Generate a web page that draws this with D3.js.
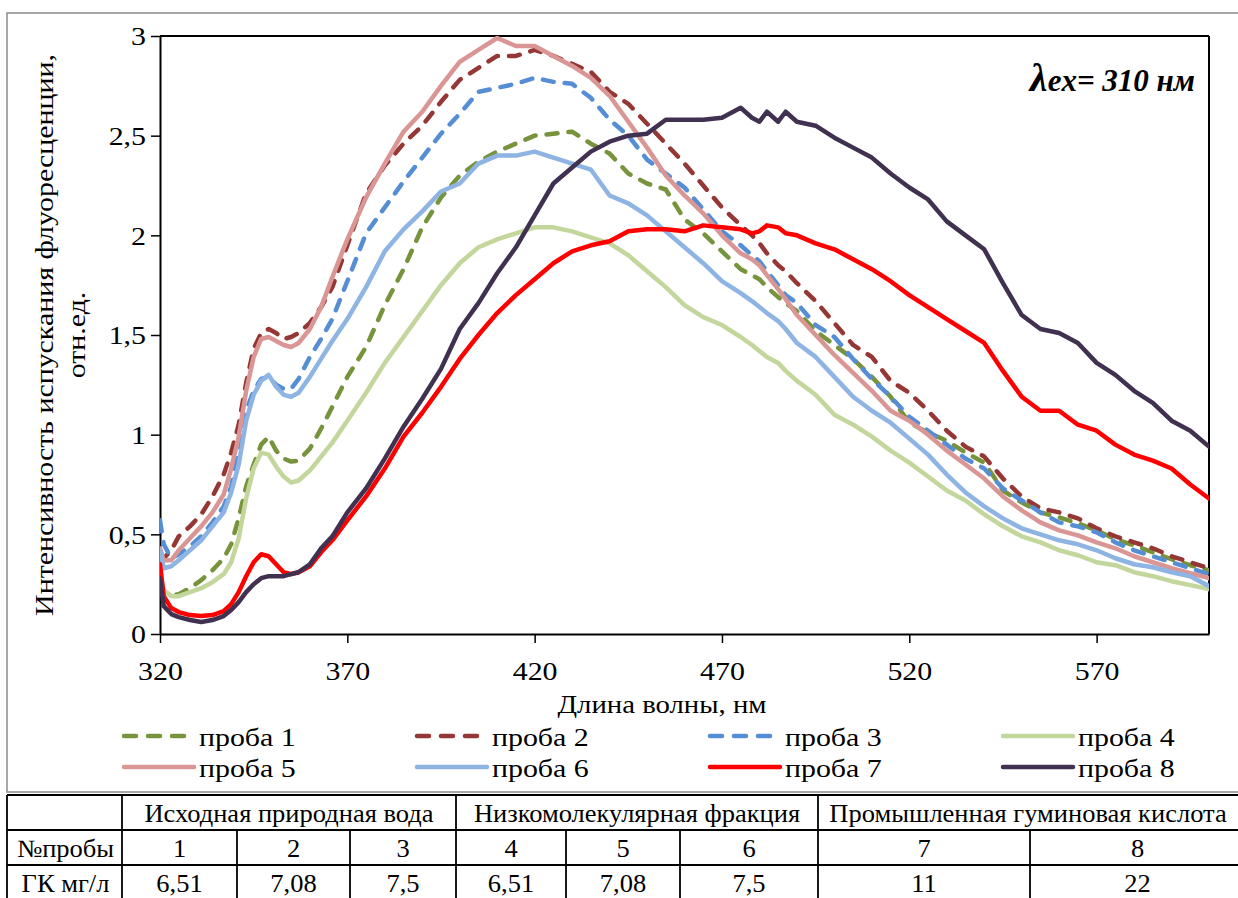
<!DOCTYPE html>
<html><head><meta charset="utf-8">
<script src="https://cdn.jsdelivr.net/npm/d3@7"></script>
<style>
html,body{margin:0;padding:0;background:#fff;}
svg{display:block;}
svg text{font-family:"Liberation Serif","DejaVu Serif",serif !important;fill:#000;}
</style>
</head><body>
<svg id="chart" width="1238" height="898"></svg>
<script>
// ---------- DATA ----------
const wavelengths = [320,321,323,325,328,331,334,337,339,341,343,345,347,349,351,353,355,357,360,363,366,370,
  375,380,385,390,395,400,405,410,415,420,425,430,435,440,445,450,455,460,465,470,475,478,480,482,485,487,490,495,500,
  505,510,515,520,525,530,535,540,545,550,555,560,565,570,575,580,585,590,595,600];

const proba1 = [0.25,0.21,0.195,0.20,0.23,0.27,0.32,0.38,0.45,0.58,0.74,0.85,0.95,0.99,0.92,0.88,0.865,0.87,0.93,1.03,1.14,1.29,
  1.44,1.65,1.83,2.04,2.19,2.30,2.37,2.42,2.46,2.50,2.51,2.52,2.46,2.41,2.31,2.26,2.23,2.08,2.01,1.92,1.83,1.80,1.78,1.74,1.69,1.66,1.62,1.52,1.45,
  1.38,1.29,1.19,1.06,1.01,0.97,0.91,0.86,0.72,0.66,0.61,0.585,0.555,0.52,0.475,0.445,0.41,0.375,0.345,0.32];

const proba2 = [0.40,0.38,0.42,0.49,0.54,0.60,0.69,0.80,0.91,1.05,1.26,1.43,1.51,1.53,1.51,1.48,1.49,1.51,1.56,1.64,1.74,1.95,
  2.21,2.35,2.46,2.55,2.67,2.78,2.84,2.90,2.90,2.93,2.90,2.86,2.82,2.72,2.66,2.56,2.46,2.36,2.25,2.14,2.05,2.00,1.96,1.91,1.85,1.82,1.76,1.67,1.56,
  1.45,1.39,1.27,1.21,1.12,1.02,0.94,0.89,0.78,0.69,0.63,0.61,0.58,0.53,0.49,0.46,0.43,0.39,0.36,0.33];

const proba3 = [0.57,0.45,0.38,0.40,0.44,0.49,0.56,0.64,0.74,0.92,1.12,1.22,1.28,1.29,1.25,1.23,1.23,1.28,1.39,1.48,1.58,1.77,
  2.01,2.14,2.27,2.39,2.51,2.61,2.72,2.74,2.76,2.79,2.77,2.76,2.69,2.58,2.50,2.38,2.31,2.24,2.13,2.02,1.95,1.90,1.87,1.82,1.75,1.70,1.66,1.55,1.49,
  1.38,1.28,1.19,1.09,1.02,0.95,0.88,0.83,0.73,0.67,0.61,0.56,0.54,0.51,0.46,0.42,0.39,0.36,0.33,0.30];

const proba4 = [0.29,0.22,0.19,0.19,0.21,0.23,0.26,0.30,0.36,0.48,0.68,0.83,0.91,0.90,0.84,0.79,0.76,0.77,0.82,0.89,0.96,1.07,
  1.21,1.36,1.49,1.62,1.75,1.86,1.94,1.98,2.01,2.04,2.04,2.02,1.99,1.96,1.90,1.82,1.74,1.65,1.59,1.55,1.49,1.45,1.42,1.39,1.36,1.32,1.27,1.20,1.10,
  1.05,0.99,0.92,0.86,0.79,0.72,0.67,0.60,0.54,0.49,0.46,0.42,0.395,0.36,0.345,0.31,0.29,0.265,0.245,0.225];

const proba5 = [0.43,0.37,0.37,0.42,0.48,0.54,0.61,0.70,0.83,0.99,1.22,1.39,1.48,1.49,1.47,1.45,1.44,1.46,1.53,1.64,1.79,1.98,
  2.19,2.36,2.52,2.62,2.75,2.87,2.93,2.99,2.95,2.95,2.90,2.85,2.79,2.70,2.57,2.44,2.30,2.20,2.11,2.00,1.91,1.88,1.85,1.80,1.73,1.68,1.60,1.50,1.40,
  1.31,1.22,1.12,1.07,1.00,0.92,0.85,0.78,0.69,0.62,0.56,0.52,0.495,0.46,0.43,0.39,0.36,0.33,0.305,0.28];

const proba6 = [0.42,0.33,0.34,0.37,0.42,0.47,0.54,0.61,0.71,0.85,1.07,1.20,1.27,1.30,1.24,1.20,1.19,1.21,1.29,1.38,1.47,1.58,
  1.74,1.92,2.03,2.12,2.22,2.26,2.36,2.40,2.40,2.42,2.39,2.36,2.33,2.20,2.16,2.10,2.02,1.94,1.86,1.77,1.71,1.67,1.64,1.61,1.57,1.53,1.46,1.39,1.29,
  1.19,1.12,1.06,0.98,0.90,0.80,0.71,0.64,0.58,0.53,0.50,0.47,0.45,0.42,0.38,0.35,0.335,0.31,0.29,0.24];

const proba7 = [0.35,0.19,0.13,0.11,0.095,0.09,0.095,0.115,0.15,0.21,0.29,0.36,0.40,0.39,0.35,0.31,0.30,0.31,0.34,0.41,0.47,0.57,
  0.69,0.83,0.99,1.11,1.24,1.38,1.50,1.61,1.70,1.78,1.86,1.92,1.95,1.97,2.02,2.03,2.03,2.02,2.05,2.04,2.03,2.01,2.02,2.05,2.04,2.01,2.00,1.96,1.93,
  1.88,1.83,1.77,1.70,1.64,1.58,1.52,1.46,1.32,1.19,1.12,1.12,1.05,1.02,0.95,0.90,0.87,0.83,0.75,0.68];

const proba8 = [0.28,0.14,0.10,0.085,0.07,0.06,0.07,0.09,0.12,0.16,0.21,0.25,0.28,0.29,0.29,0.29,0.30,0.31,0.35,0.43,0.49,0.61,
  0.73,0.88,1.04,1.18,1.33,1.53,1.66,1.81,1.94,2.10,2.26,2.34,2.42,2.47,2.50,2.51,2.58,2.58,2.58,2.59,2.64,2.59,2.57,2.62,2.57,2.62,2.57,2.55,2.49,
  2.44,2.39,2.31,2.24,2.18,2.07,2.00,1.93,1.76,1.60,1.53,1.51,1.46,1.36,1.30,1.22,1.16,1.07,1.02,0.94];

const seriesNames = ["проба 1","проба 2","проба 3","проба 4","проба 5","проба 6","проба 7","проба 8"];
const seriesValues = [proba1,proba2,proba3,proba4,proba5,proba6,proba7,proba8];

const xTickValues = [320,370,420,470,520,570];
const yTickValues = [0,0.5,1,1.5,2,2.5,3];

const xTitle = "Длина волны, нм";
const yTitleLines = ["Интенсивность испускания флуоресценции,","отн.ед."];

const tableGroups = ["Исходная природная вода","Низкомолекулярная фракция","Промышленная гуминовая кислота"];
const tableGroupSizes = [3,3,2];
const rowLabels = ["№пробы","ГК мг/л"];
const sampleNumbers = ["1","2","3","4","5","6","7","8"];
const gkValues = ["6,51","7,08","7,5","6,51","7,08","7,5","11","22"];

// ---------- STYLES ----------
const seriesStyles = [
  {color:"#77933C", dash:true},
  {color:"#953735", dash:true},
  {color:"#558ED5", dash:true},
  {color:"#C3D69B", dash:false},
  {color:"#D99694", dash:false},
  {color:"#8DB4E2", dash:false},
  {color:"#FF0000", dash:false},
  {color:"#403151", dash:false}
];

const svg = d3.select("#chart");
const SX = 1.15; // horizontal glyph stretch seen in the reference
const FONT = "Liberation Serif";

// outer chart border
svg.append("rect").attr("x",7).attr("y",13).attr("width",1245).attr("height",779)
  .attr("fill","none").attr("stroke","#8c8c8c").attr("stroke-width",1.5);

const x = d3.scaleLinear().domain([320,600]).range([160,1209]);
const y = d3.scaleLinear().domain([0,3]).range([634,36]);

// plot frame (top/right)
svg.append("line").attr("x1",160).attr("x2",1209).attr("y1",36).attr("y2",36).attr("stroke","#000").attr("stroke-width",2);
svg.append("line").attr("x1",1209).attr("x2",1209).attr("y1",36).attr("y2",634).attr("stroke","#000").attr("stroke-width",2);

const fmt = v => String(v).replace(".", ",");

const yAxis = svg.append("g").attr("transform","translate(160,0)")
  .call(d3.axisLeft(y).tickValues(yTickValues).tickSize(9).tickSizeOuter(0).tickFormat(fmt));
yAxis.attr("font-family",FONT);
yAxis.select(".domain").attr("stroke","#000").attr("stroke-width",2);
yAxis.selectAll(".tick line").attr("stroke","#000").attr("stroke-width",1.5);
yAxis.selectAll(".tick text")
  .attr("font-family",FONT).attr("font-size",26).attr("fill","#000")
  .attr("x",-14/SX).attr("dy","0.34em").attr("transform",`scale(${SX},1)`);

const xAxis = svg.append("g").attr("transform","translate(0,634)")
  .call(d3.axisBottom(x).tickValues(xTickValues).tickSize(9).tickSizeOuter(0));
xAxis.attr("font-family",FONT);
xAxis.select(".domain").attr("stroke","#000").attr("stroke-width",2);
xAxis.selectAll(".tick line").attr("stroke","#000").attr("stroke-width",1.5);
xAxis.selectAll(".tick text")
  .attr("font-family",FONT).attr("font-size",26).attr("fill","#000")
  .attr("y",46).attr("dy",0).attr("x",0).attr("transform",`scale(${SX},1)`);

// axis titles
svg.append("text").attr("transform",`translate(662,713) scale(${SX},1)`)
  .attr("font-family",FONT).attr("text-anchor","middle").attr("font-size",25).text(xTitle);
svg.append("text").attr("transform",`translate(53,335) rotate(-90) scale(${SX},1)`)
  .attr("font-family",FONT).attr("text-anchor","middle").attr("font-size",26).text(yTitleLines[0]);
svg.append("text").attr("transform",`translate(85,335) rotate(-90) scale(${SX},1)`)
  .attr("font-family",FONT).attr("text-anchor","middle").attr("font-size",26).text(yTitleLines[1]);

// clip
svg.append("clipPath").attr("id","plotclip").append("rect")
  .attr("x",160).attr("y",30).attr("width",1049).attr("height",606);

const line = d3.line().x((d,i)=>x(wavelengths[i])).y(d=>y(d)).curve(d3.curveLinear);
const gLines = svg.append("g").attr("clip-path","url(#plotclip)");
seriesValues.forEach((vals,k)=>{
  const st = seriesStyles[k];
  gLines.append("path").datum(vals).attr("d",line)
    .attr("fill","none").attr("stroke",st.color).attr("stroke-width",4.5)
    .attr("stroke-linecap","round").attr("stroke-linejoin","round")
    .attr("stroke-dasharray", st.dash ? "11,11" : null);
});

// annotation
const ann = svg.append("text").attr("x",1195).attr("y",91).attr("text-anchor","end")
  .attr("font-family",FONT).attr("font-weight","bold").attr("font-style","italic").attr("font-size",31);
ann.append("tspan").attr("font-size",40).text("λ");
ann.append("tspan").text("ex= 310 нм");

// legend
const legX = [122,415,708,1001];
const legY = [736,767];
seriesNames.forEach((name,k)=>{
  const cx = legX[k%4], cy = legY[Math.floor(k/4)];
  const st = seriesStyles[k];
  svg.append("line").attr("x1",cx+2).attr("x2",cx+72).attr("y1",cy).attr("y2",cy)
    .attr("stroke",st.color).attr("stroke-width",4.5).attr("stroke-linecap","round")
    .attr("stroke-dasharray", st.dash ? "12,12" : null);
  svg.append("text").attr("transform",`translate(${cx+77},${cy+10}) scale(${SX},1)`)
    .attr("font-family",FONT).attr("font-size",26).text(name);
});

// table
const colEdges = [7,122,237,350,456,566,680,818,1030,1245];
const rowEdges = [795,830,865,900];
const tg = svg.append("g");
const tstroke = (x1,y1,x2,y2)=>tg.append("line").attr("x1",x1).attr("y1",y1).attr("x2",x2).attr("y2",y2)
  .attr("stroke","#000").attr("stroke-width",1.8);
rowEdges.forEach(ry=>tstroke(colEdges[0],ry,colEdges[colEdges.length-1],ry));
let gi = 1; const groupEdges=[1];
tableGroupSizes.forEach(s=>{gi+=s; groupEdges.push(gi);});
colEdges.forEach((cx,i)=>{
  const full = i===0 || groupEdges.includes(i);
  tstroke(cx, full?rowEdges[0]:rowEdges[1], cx, rowEdges[3]);
});
const TSX = 1.06;
const cellText = (cx,by,t)=>tg.append("text").attr("transform",`translate(${cx},${by}) scale(${TSX},1)`)
  .attr("font-family",FONT).attr("text-anchor","middle").attr("font-size",25).text(t);
let start = 1;
tableGroups.forEach((g,k)=>{
  const a = colEdges[start], b = Math.min(colEdges[start+tableGroupSizes[k]], 1238);
  cellText((a+b)/2, rowEdges[0]+27, g);
  start += tableGroupSizes[k];
});
cellText((colEdges[0]+colEdges[1])/2+1, rowEdges[1]+27, rowLabels[0]);
cellText((colEdges[0]+colEdges[1])/2+1, rowEdges[2]+27, rowLabels[1]);
sampleNumbers.forEach((n,i)=>{
  const cx=(colEdges[i+1]+colEdges[i+2])/2;
  cellText(cx, rowEdges[1]+27, n);
  cellText(cx, rowEdges[2]+27, gkValues[i]);
});
</script>
</body></html>
